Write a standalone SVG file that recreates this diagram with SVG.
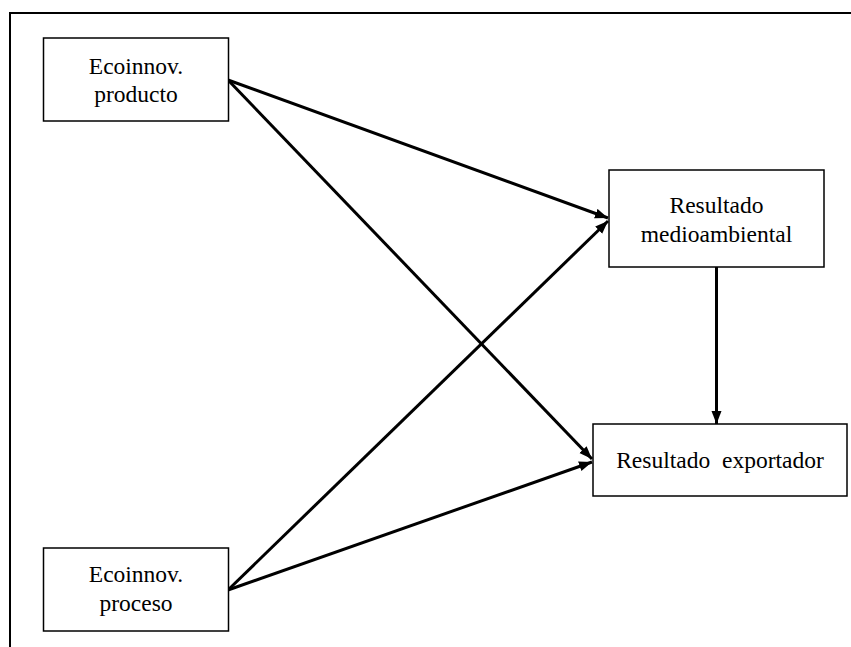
<svg xmlns="http://www.w3.org/2000/svg" width="851" height="647" viewBox="0 0 851 647">
<style>
.box{fill:#fff;stroke:#000;stroke-width:1.5}
.lbl{font-family:"Liberation Serif","Times New Roman",serif;font-size:23.5px;fill:#000;text-anchor:middle}
.edge{stroke:#000;stroke-width:3;fill:none;marker-end:url(#ah)}
</style>
<defs>
<marker id="ah" markerUnits="userSpaceOnUse" markerWidth="14" markerHeight="12" refX="13" refY="5" orient="auto">
<path d="M0,0 L13,5 L0,10 Z" fill="#000"/>
</marker>
</defs>
<rect width="851" height="647" fill="#fff"/>
<g id="frame" stroke="#000" stroke-width="2" fill="none">
<path d="M10,647 V13 H851"/>
</g>
<g id="connectors">
<line class="edge" x1="228" y1="80" x2="608" y2="218"/>
<line class="edge" x1="228" y1="80" x2="592" y2="459"/>
<line class="edge" x1="228" y1="590" x2="608" y2="221"/>
<line class="edge" x1="228" y1="590" x2="592" y2="462"/>
<line class="edge" x1="716.5" y1="267" x2="716.5" y2="424"/>
</g>
<g id="n_producto">
<rect class="box" x="43.5" y="38" width="185" height="83"/>
<text class="lbl" x="136" y="74">Ecoinnov.</text>
<text class="lbl" x="136" y="102">producto</text>
</g>
<g id="n_proceso">
<rect class="box" x="43.5" y="548" width="185" height="83"/>
<text class="lbl" x="136" y="582">Ecoinnov.</text>
<text class="lbl" x="136" y="611">proceso</text>
</g>
<g id="n_medio">
<rect class="box" x="609" y="170" width="215" height="97"/>
<text class="lbl" x="716.5" y="213">Resultado</text>
<text class="lbl" x="716.5" y="242">medioambiental</text>
</g>
<g id="n_export">
<rect class="box" x="593" y="424" width="254" height="72"/>
<text class="lbl" x="720" y="468" word-spacing="6">Resultado exportador</text>
</g>
</svg>
